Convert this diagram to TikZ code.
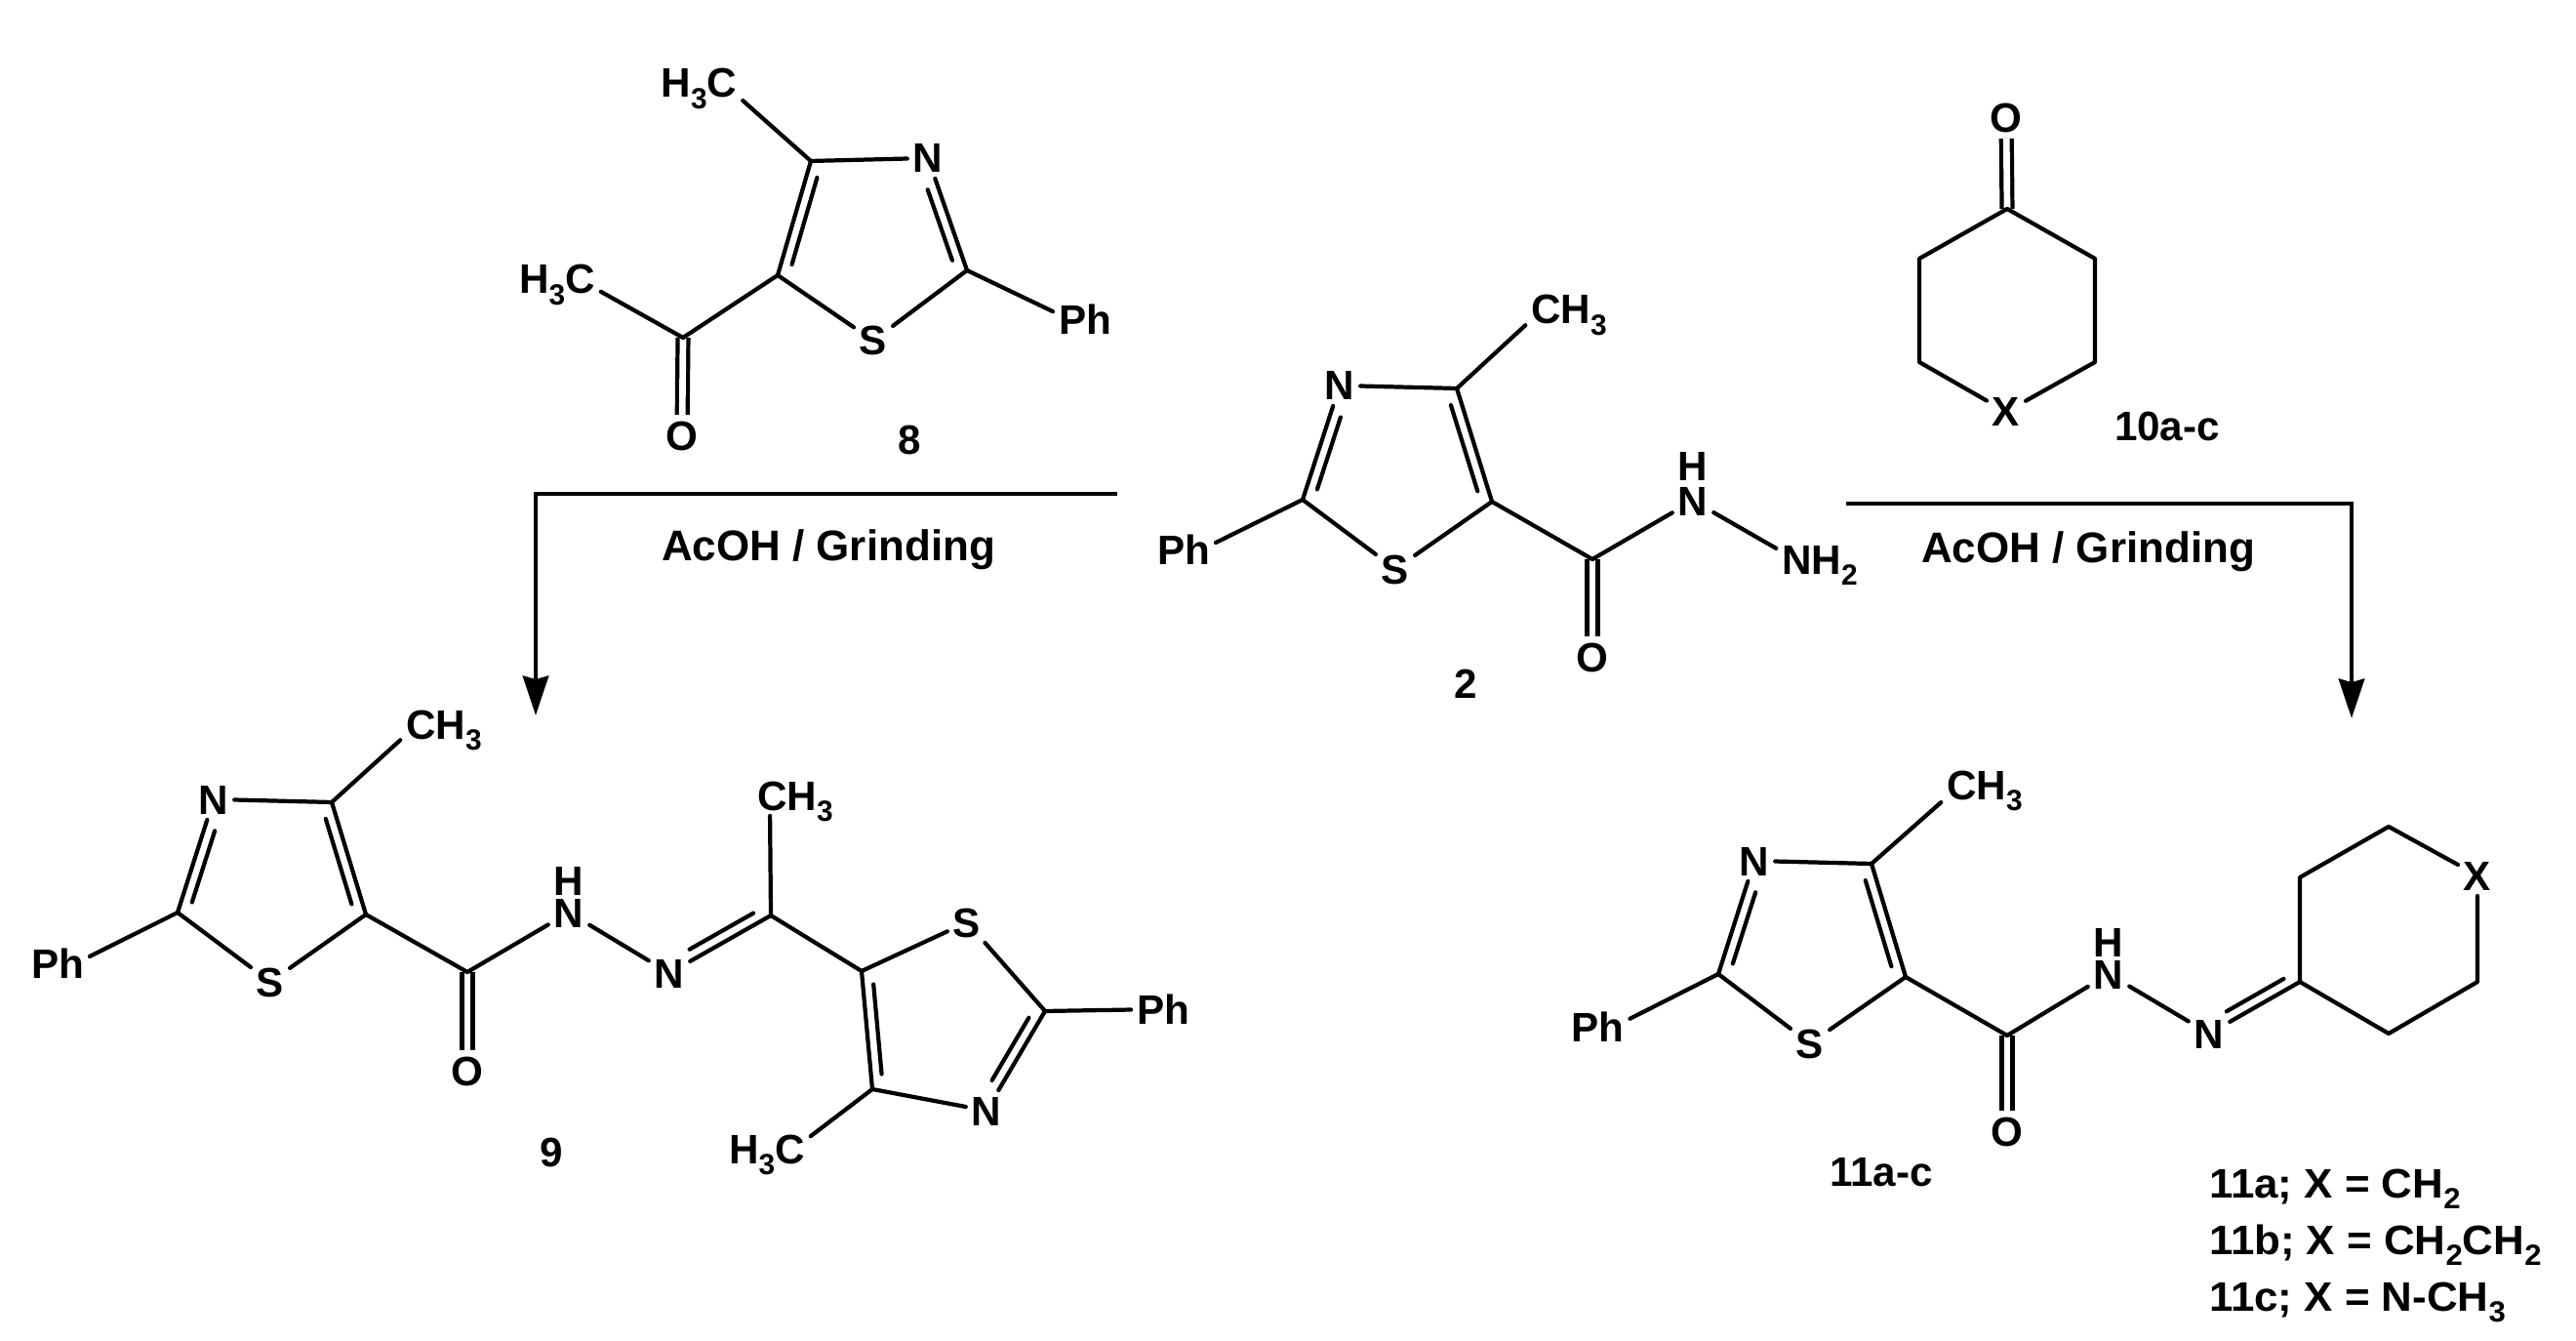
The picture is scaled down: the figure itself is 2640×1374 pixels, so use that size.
\documentclass[tikz,border=0pt]{standalone}
\usepackage{fontspec}
\setmainfont{Liberation Sans}
\newfontfamily\legendfont[FakeStretch=1.04]{Liberation Sans}
\usetikzlibrary{calc,arrows.meta}

\tikzset{
  bond/.style={line width=1.2pt,line cap=round,line join=round},
  cobond/.style={line width=1.2pt,double,double distance=1.9pt,line cap=butt},
  atom/.style={font=\fontsize{12}{14}\selectfont\bfseries,inner sep=1.5pt,text height=0.3cm,text depth=0pt},
  hatom/.style={atom,inner sep=0pt},
  cond/.style={atom,font=\fontsize{12.5}{14}\selectfont\bfseries},
  legend/.style={atom,font=\fontsize{12}{14}\selectfont\legendfont\bfseries,anchor=west},
  react/.style={line width=1.2pt,line join=miter,-{Stealth[length=11.5pt,width=7.5pt,inset=1pt]}}
}
% subscript as the drawing program sets it
\newcommand{\sbs}[1]{\raisebox{-3.3pt}{\fontsize{8.5}{10}\selectfont #1}}
% inner line of a double bond: from, to, cut at the "to" end, side
\newcommand{\innerbond}[4]{\draw[bond] ($(#1)!.12!(#2)!#4!90:(#2)$) -- ($(#2)!#3!(#1)!#4!-90:(#1)$);}

\begin{document}
\begin{tikzpicture}[x=0.01cm,y=-0.01cm]
  \useasboundingbox (0,0) rectangle (2640,1374);

  % ketone 8
  \coordinate (c4h) at (831,165);
  \coordinate (c5h) at (797,282);
  \coordinate (c2h) at (991,277);
  \coordinate (coh) at (700,346);
  \node[atom] (nh) at (951,162) {N};
  \node[atom] (sh) at (895,349) {S};
  \node[atom] (oh) at (699,446) {O};
  \node[atom] (phh) at (1112,328) {Ph};
  \node[atom] (meh) at (716.5,85) {H\sbs{3}C};
  \node[atom] (acch) at (571,286) {H\sbs{3}C};
  \node[atom] (numh) at (932,451) {8};
  \draw[cobond] (coh) -- (oh);
  \draw[bond] (c4h) -- (c5h);
  \draw[bond] (c4h) -- (nh);
  \draw[bond] (c2h) -- (nh);
  \draw[bond] (c2h) -- (sh);
  \draw[bond] (c5h) -- (sh);
  \draw[bond] (c2h) -- (phh.165);
  \draw[bond] (c4h) -- (meh.-22);
  \draw[bond] (c5h) -- (coh);
  \draw[bond] (coh) -- (acch.-16);
  \innerbond{c4h}{c5h}{.12}{3.1pt}
  \innerbond{c2h}{nh}{.25}{3.1pt}

  % hydrazide 2
  \coordinate (c4b) at (1493,398);
  \coordinate (c5b) at (1529,514);
  \coordinate (c2b) at (1335,512);
  \coordinate (cob) at (1632,573);
  \node[atom] (nb) at (1373,395) {N};
  \node[atom] (sb) at (1430,583) {S};
  \node[atom] (ob) at (1632,673) {O};
  \node[atom] (phb) at (1213,563) {Ph};
  \node[atom] (meb) at (1608,317) {CH\sbs{3}};
  \node[atom] (nhb) at (1735,513) {N};
  \node[hatom] (hb) at (1735,478) {H};
  \node[atom] (nhhb) at (1865,573) {NH\sbs{2}};
  \node[atom] (numb) at (1502,700) {2};
  \draw[cobond] (cob) -- (ob);
  \draw[bond] (c4b) -- (c5b);
  \draw[bond] (c4b) -- (nb);
  \draw[bond] (c2b) -- (nb);
  \draw[bond] (c2b) -- (sb);
  \draw[bond] (c5b) -- (sb);
  \draw[bond] (c2b) -- (phb.12);
  \draw[bond] (c4b) -- (meb.200);
  \draw[bond] (c5b) -- (cob);
  \draw[bond] (cob) -- (nhb);
  \draw[bond] (nhb) -- (nhhb.166);
  \innerbond{c4b}{c5b}{.12}{-3.1pt}
  \innerbond{c2b}{nb}{.25}{-3.1pt}

  % ketone 10
  \coordinate (ct) at (2057,214);
  \coordinate (cru) at (2147,265);
  \coordinate (crd) at (2147,371);
  \coordinate (clu) at (1967,265);
  \coordinate (cld) at (1967,371);
  \node[atom] (xt) at (2056,422) {X};
  \node[atom] (ot) at (2056,121) {O};
  \node[atom] (numt) at (2221,436) {10a-c};
  \draw[cobond] (ct) -- (ot);
  \draw[bond] (xt) -- (cld) -- (clu) -- (ct) -- (cru) -- (crd) -- (xt);

  % product 9
  \coordinate (c4n) at (340,822);
  \coordinate (c5n) at (375,937);
  \coordinate (c2n) at (182,935);
  \coordinate (con) at (479,996);
  \coordinate (cim) at (790,938);
  \coordinate (c5r) at (883,995);
  \coordinate (c4r) at (894,1116);
  \coordinate (c2r) at (1071,1036);
  \node[atom] (nn) at (219,819) {N};
  \node[atom] (sn) at (277,1006) {S};
  \node[atom] (on) at (479,1097) {O};
  \node[atom] (phn) at (59,987) {Ph};
  \node[atom] (men) at (455,742) {CH\sbs{3}};
  \node[atom] (nhn) at (583,935) {N};
  \node[hatom] (hn) at (583,902) {H};
  \node[atom] (nim) at (686,997) {N};
  \node[atom] (meim) at (815,815) {CH\sbs{3}};
  \node[atom] (sr) at (991,945) {S};
  \node[atom] (nr) at (1011,1138) {N};
  \node[atom] (phr) at (1192,1034) {Ph};
  \node[atom] (mer) at (786,1177) {H\sbs{3}C};
  \node[atom] (numn) at (565,1180) {9};
  \draw[cobond] (con) -- (on);
  \draw[bond] (c4n) -- (c5n);
  \draw[bond] (c4n) -- (nn);
  \draw[bond] (c2n) -- (nn);
  \draw[bond] (c2n) -- (sn);
  \draw[bond] (c5n) -- (sn);
  \draw[bond] (c2n) -- (phn.12);
  \draw[bond] (c4n) -- (men.200);
  \draw[bond] (c5n) -- (con);
  \draw[bond] (con) -- (nhn);
  \draw[bond] (nhn) -- (nim);
  \draw[bond] (cim) -- (nim);
  \draw[bond] (cim) -- (meim.219);
  \draw[bond] (cim) -- (c5r);
  \draw[bond] (c5r) -- (sr);
  \draw[bond] (sr) -- (c2r);
  \draw[bond] (c2r) -- (nr);
  \draw[bond] (c4r) -- (nr);
  \draw[bond] (c5r) -- (c4r);
  \draw[bond] (c2r) -- (phr);
  \draw[bond] (c4r) -- (mer.16);
  \innerbond{c4n}{c5n}{.12}{-3.1pt}
  \innerbond{c2n}{nn}{.25}{-3.1pt}
  \innerbond{cim}{nim}{.25}{-3.1pt}
  \innerbond{c5r}{c4r}{.12}{3.1pt}
  \innerbond{c2r}{nr}{.25}{-3.1pt}

  % product 11
  \coordinate (c4e) at (1918,885);
  \coordinate (c5e) at (1953,1001);
  \coordinate (c2e) at (1761,998);
  \coordinate (coe) at (2057,1061);
  \coordinate (cime) at (2357,1006);
  \coordinate (rga) at (2357,899);
  \coordinate (rgb) at (2448,847);
  \coordinate (rgc) at (2539,1006);
  \coordinate (rgd) at (2448,1059);
  \node[atom] (ne) at (1798,882) {N};
  \node[atom] (se) at (1855,1069) {S};
  \node[atom] (oe) at (2057,1159) {O};
  \node[atom] (phe) at (1637.5,1052) {Ph};
  \node[atom] (mee) at (2034,804) {CH\sbs{3}};
  \node[atom] (nhe) at (2161,998) {N};
  \node[hatom] (he) at (2161,965) {H};
  \node[atom] (nime) at (2264,1059) {N};
  \node[atom] (xe) at (2539,897) {X};
  \node[atom] (nume) at (1928,1200) {11a-c};
  \draw[cobond] (coe) -- (oe);
  \draw[bond] (c4e) -- (c5e);
  \draw[bond] (c4e) -- (ne);
  \draw[bond] (c2e) -- (ne);
  \draw[bond] (c2e) -- (se);
  \draw[bond] (c5e) -- (se);
  \draw[bond] (c2e) -- (phe.14);
  \draw[bond] (c4e) -- (mee.202);
  \draw[bond] (c5e) -- (coe);
  \draw[bond] (coe) -- (nhe);
  \draw[bond] (nhe) -- (nime);
  \draw[bond] (cime) -- (nime);
  \draw[bond] (xe) -- (rgb) -- (rga) -- (cime) -- (rgd) -- (rgc) -- (xe);
  \innerbond{c4e}{c5e}{.12}{-3.1pt}
  \innerbond{c2e}{ne}{.25}{-3.1pt}
  \innerbond{cime}{nime}{.25}{-3.1pt}

  \node[legend] (leg a) at (2258,1212) {11a; X = CH\sbs{2}};
  \node[legend] (leg b) at (2258,1270) {11b; X = CH\sbs{2}CH\sbs{2}};
  \node[legend] (leg c) at (2258,1328) {11c; X = N-CH\sbs{3}};

  % reaction arrows
  \coordinate (lfrom) at (1145,506);
  \coordinate (lto) at (549,733);
  \coordinate (rfrom) at (1892,516);
  \coordinate (rto) at (2410,736);
  \draw[react] (lfrom) -| (lto);
  \draw[react] (rfrom) -| (rto);
  \node[cond] (condl) at (849,559) {AcOH / Grinding};
  \node[cond] (condr) at (2140,561) {AcOH / Grinding};
\end{tikzpicture}
\end{document}
